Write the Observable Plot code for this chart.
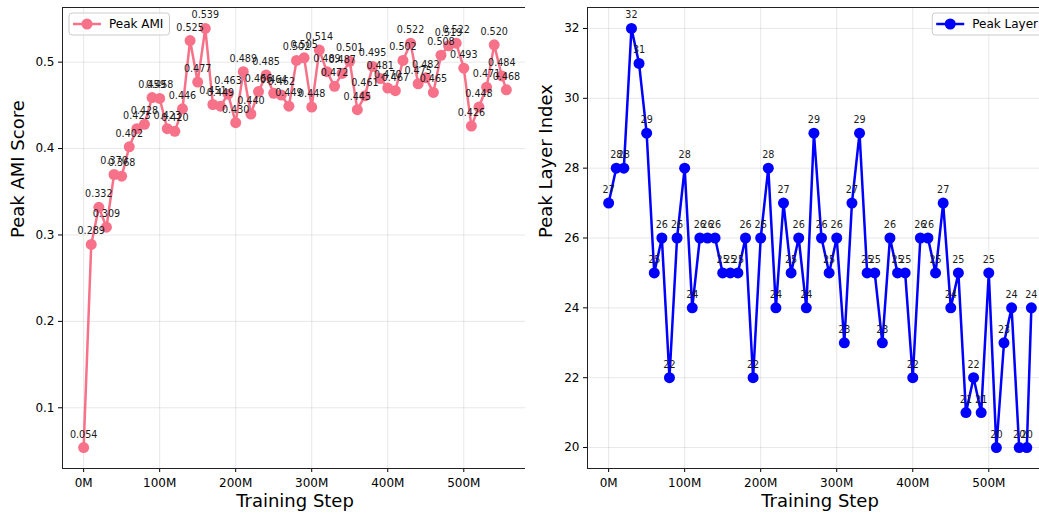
<!DOCTYPE html>
<html><head><meta charset="utf-8">
<script src="https://cdn.jsdelivr.net/npm/d3@7"></script>
<script src="https://cdn.jsdelivr.net/npm/@observablehq/plot@0.6"></script>
<style>
html,body{margin:0;padding:0;background:#fff;overflow:hidden;}
#wrap{position:relative;width:1039px;height:516px;overflow:hidden;background:#fff;}
#left{position:absolute;left:0;top:0;width:540px;height:516px;}
#right{position:absolute;left:525px;top:0;width:540px;height:516px;}
#wrap svg{max-width:none !important;}
</style></head><body><div id="wrap"><div id="left"></div><div id="right"></div></div>
<script>
// Training steps in millions
const stepsM = [0,10,20,30,40,50,60,70,80,90,100,110,120,130,140,150,160,170,180,190,200,210,220,230,240,250,260,270,280,290,300,310,320,330,340,350,360,370,380,390,400,410,420,430,440,450,460,470,480,490,500,510,520,530,540,550,556];
const peakAMI = [0.054,0.289,0.332,0.309,0.370,0.368,0.402,0.423,0.428,0.459,0.458,0.423,0.420,0.446,0.525,0.477,0.539,0.451,0.449,0.463,0.430,0.489,0.440,0.466,0.485,0.464,0.462,0.449,0.502,0.505,0.448,0.514,0.489,0.472,0.487,0.501,0.445,0.461,0.495,0.481,0.470,0.467,0.502,0.522,0.475,0.482,0.465,0.508,0.519,0.522,0.493,0.426,0.448,0.471,0.520,0.484,0.468];
const peakLayer = [27,28,28,32,31,29,25,26,22,26,28,24,26,26,26,25,25,25,26,22,26,28,24,27,25,26,24,29,26,25,26,23,27,29,25,25,23,26,25,25,22,26,26,25,27,24,25,21,22,21,25,20,23,24,20,20,24];
const xTicks = [0,100,200,300,400,500];
const amiTicks = [0.1,0.2,0.3,0.4,0.5];
const layerTicks = [20,22,24,26,28,30,32];

const W = 540, H = 516, mL = 62, mR = 13, mT = 7, mB = 48;
const FONT = "'DejaVu Sans', sans-serif";

function panel(o) {
  const data = stepsM.map((s, i) => ({step: s, v: o.values[i]}));
  const plot = Plot.plot({
    width: W, height: H,
    marginLeft: mL, marginRight: mR, marginTop: mT, marginBottom: mB,
    style: {fontFamily: FONT, fontSize: "12px", color: "#000", background: "#fff", overflow: "visible", maxWidth: "none"},
    x: {domain: [-27.8, 583.8], label: null},
    y: {domain: o.yDomain, label: null},
    marks: [
      Plot.gridX(xTicks, {stroke: "#b0b0b0", strokeOpacity: 0.3, strokeWidth: 1}),
      Plot.gridY(o.yTicks, {stroke: "#b0b0b0", strokeOpacity: 0.3, strokeWidth: 1}),
      Plot.axisX(xTicks, {tickSize: 4, tickPadding: 6, fontSize: 12, tickFormat: d => d + "M", label: null}),
      Plot.axisY(o.yTicks, {tickSize: 4, tickPadding: 4, fontSize: 12, tickFormat: o.yFmt, label: null}),
      Plot.line(data, {x: "step", y: "v", stroke: o.color, strokeWidth: 2.5, strokeLinejoin: "round"}),
      Plot.dot(data, {x: "step", y: "v", r: 5.5, fill: o.color, stroke: "none"}),
      Plot.text(data, {x: "step", y: "v", text: d => o.labelFmt(d.v), dy: -10, lineAnchor: "bottom", fontSize: 9.6, fill: "#1a1a1a"}),
      Plot.frame({stroke: "#222", strokeWidth: 1}),
      Plot.text(["Training Step"], {frameAnchor: "bottom", dy: 38, fontSize: 18, fill: "#000"}),
      Plot.text([o.yLabel], {frameAnchor: "left", rotate: -90, dx: o.yLabelDx, fontSize: 18, fill: "#000"})
    ]
  });
  document.getElementById(o.id).appendChild(plot);

  // legend inside the axes
  const svg = d3.select(plot);
  const g = svg.append("g").attr("font-family", FONT).attr("text-anchor", "start");
  const t = g.append("text").attr("font-size", 12).attr("fill", "#000").attr("text-anchor", "start").text(o.legendText);
  const tw = t.node().getComputedTextLength();
  const boxW = 4 + 28 + 8 + tw + 6;
  const boxH = 22;
  const plotRight = W - mR;
  const x0 = o.legendSide === "left" ? mL + 7 : plotRight - 8 - boxW;
  const y0 = mT + 6;
  g.insert("rect", "text").attr("x", x0).attr("y", y0).attr("width", boxW).attr("height", boxH)
    .attr("rx", 3).attr("fill", "#fff").attr("fill-opacity", 0.8).attr("stroke", "#cccccc").attr("stroke-width", 1);
  g.insert("line", "text").attr("x1", x0 + 4).attr("x2", x0 + 32).attr("y1", y0 + boxH / 2).attr("y2", y0 + boxH / 2)
    .attr("stroke", o.color).attr("stroke-width", 2.5);
  g.insert("circle", "text").attr("cx", x0 + 18).attr("cy", y0 + boxH / 2).attr("r", 5.5).attr("fill", o.color);
  t.attr("x", x0 + 40).attr("y", y0 + boxH / 2).attr("dy", "0.35em");
}

panel({id: "left", values: peakAMI, color: "#f77189", yDomain: [0.02975, 0.56325], yTicks: amiTicks,
  yFmt: d3.format(".1f"), labelFmt: d3.format(".3f"), yLabel: "Peak AMI Score", yLabelDx: -44,
  legendText: "Peak AMI", legendSide: "left"});
panel({id: "right", values: peakLayer, color: "#0000ff", yDomain: [19.4, 32.6], yTicks: layerTicks,
  yFmt: d => String(d), labelFmt: d => String(d), yLabel: "Peak Layer Index", yLabelDx: -41,
  legendText: "Peak Layer", legendSide: "right"});
</script></body></html>
